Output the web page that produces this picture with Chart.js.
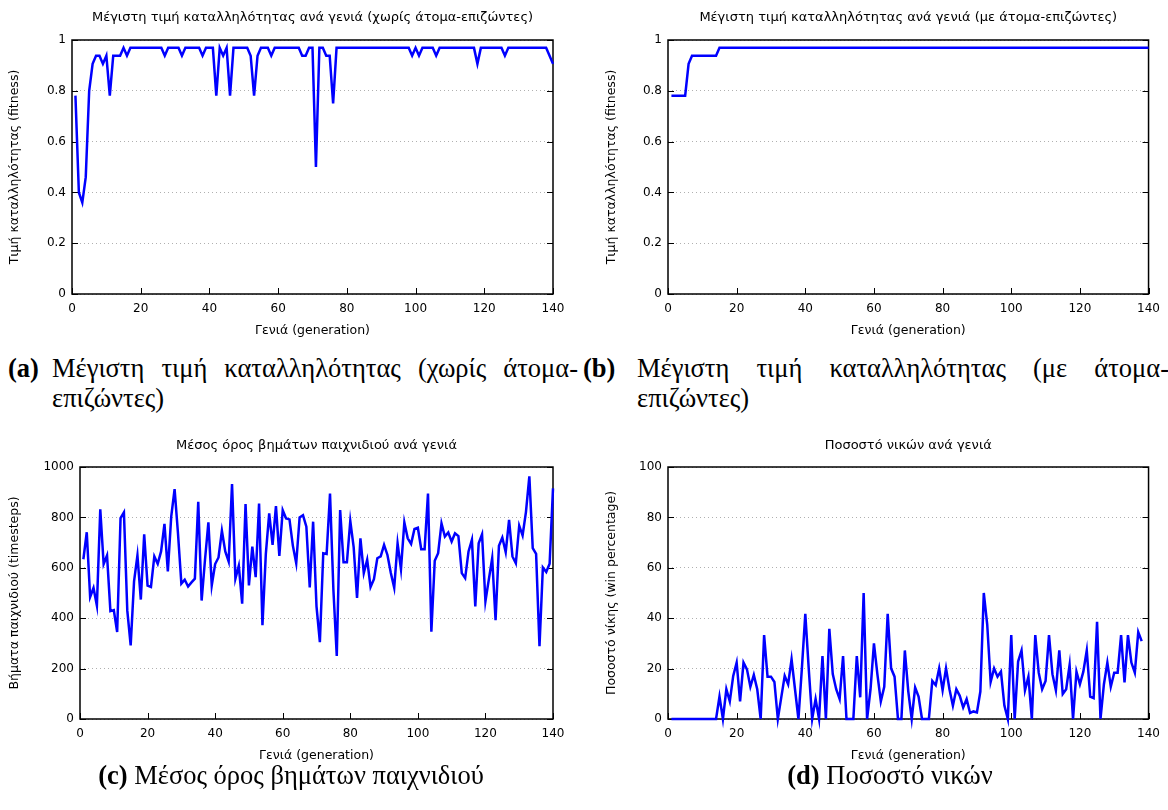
<!DOCTYPE html>
<html><head><meta charset="utf-8">
<script src="https://cdn.jsdelivr.net/npm/chart.js@4.4.1/dist/chart.umd.min.js"></script>
<style>
html,body{margin:0;padding:0;background:#fff;width:1168px;height:810px;overflow:hidden;position:relative}
canvas{position:absolute;display:block}
.cap{position:absolute;font-family:"Liberation Serif","Times New Roman",serif;font-size:26.5px;color:#000;white-space:nowrap;line-height:30px}
.j{text-align:justify;text-align-last:justify;white-space:normal}
</style></head><body>
<canvas id="ca" width="584" height="345" style="left:0;top:0"></canvas>
<canvas id="cb" width="584" height="345" style="left:584px;top:0"></canvas>
<canvas id="cc" width="584" height="340" style="left:0;top:425px"></canvas>
<canvas id="cd" width="584" height="340" style="left:584px;top:425px"></canvas>

<div class="cap" style="left:8px;top:353px"><b>(a)</b></div>
<div class="cap j" style="left:52px;top:353px;width:526px">Μέγιστη τιμή καταλληλότητας (χωρίς άτομα-</div>
<div class="cap" style="left:52px;top:383px">επιζώντες)</div>

<div class="cap" style="left:583px;top:353px"><b>(b)</b></div>
<div class="cap j" style="left:637px;top:353px;width:532px">Μέγιστη τιμή καταλληλότητας (με άτομα-</div>
<div class="cap" style="left:637px;top:383px">επιζώντες)</div>

<div class="cap" style="left:0;width:582px;top:760px;text-align:center"><b>(c)</b> Μέσος όρος βημάτων παιχνιδιού</div>
<div class="cap" style="left:600px;width:580px;top:760px;text-align:center"><b>(d)</b> Ποσοστό νικών</div>

<script>
const generations = [1,2,3,4,5,6,7,8,9,10,11,12,13,14,15,16,17,18,19,20,21,22,23,24,25,26,27,28,29,30,31,32,33,34,35,36,37,38,39,40,41,42,43,44,45,46,47,48,49,50,51,52,53,54,55,56,57,58,59,60,61,62,63,64,65,66,67,68,69,70,71,72,73,74,75,76,77,78,79,80,81,82,83,84,85,86,87,88,89,90,91,92,93,94,95,96,97,98,99,100,101,102,103,104,105,106,107,108,109,110,111,112,113,114,115,116,117,118,119,120,121,122,123,124,125,126,127,128,129,130,131,132,133,134,135,136,137,138,139,140];

const xTicks = [0,20,40,60,80,100,120,140];

const fitnessNoSurvivors = [0.781,0.40,0.36,0.46,0.80,0.906,0.938,0.938,0.906,0.938,0.781,0.938,0.938,0.938,0.969,0.938,0.969,
0.969,0.969,0.969,0.969,0.969,0.969,0.969,0.969,0.969,0.938,0.969,0.969,0.969,0.969,0.938,0.969,0.969,0.969,0.969,0.969,0.938,
0.969,0.969,0.969,0.781,0.969,0.938,0.969,0.781,0.969,0.969,0.969,0.969,0.969,0.938,0.781,0.938,0.969,0.969,0.969,0.938,
0.969,0.969,0.969,0.969,0.969,0.969,0.969,0.969,0.938,0.938,0.969,0.969,0.50,0.969,0.969,0.938,0.938,0.75,
0.969,0.969,0.969,0.969,0.969,0.969,0.969,0.969,0.969,0.969,0.969,0.969,0.969,0.969,0.969,0.969,0.969,0.969,0.969,0.969,0.969,0.969,
0.938,0.969,0.938,0.969,0.969,0.969,0.969,0.938,
0.969,0.969,0.969,0.969,0.969,0.969,0.969,0.969,0.969,0.969,0.969,0.906,
0.969,0.969,0.969,0.969,0.969,0.969,0.969,0.938,
0.969,0.969,0.969,0.969,0.969,0.969,0.969,0.969,0.969,0.969,0.969,0.969,0.938,0.906];

const fitnessWithSurvivors = [0.781,0.781,0.781,0.781,0.781,0.906,0.938,0.938,0.938,0.938,0.938,0.938,0.938,0.938,
0.969,0.969,0.969,0.969,0.969,0.969,0.969,0.969,0.969,0.969,0.969,0.969,0.969,0.969,0.969,0.969,0.969,0.969,0.969,0.969,
0.969,0.969,0.969,0.969,0.969,0.969,0.969,0.969,0.969,0.969,0.969,0.969,0.969,0.969,0.969,0.969,0.969,0.969,0.969,0.969,
0.969,0.969,0.969,0.969,0.969,0.969,0.969,0.969,0.969,0.969,0.969,0.969,0.969,0.969,0.969,0.969,0.969,0.969,0.969,0.969,
0.969,0.969,0.969,0.969,0.969,0.969,0.969,0.969,0.969,0.969,0.969,0.969,0.969,0.969,0.969,0.969,0.969,0.969,0.969,0.969,
0.969,0.969,0.969,0.969,0.969,0.969,0.969,0.969,0.969,0.969,0.969,0.969,0.969,0.969,0.969,0.969,0.969,0.969,0.969,0.969,
0.969,0.969,0.969,0.969,0.969,0.969,0.969,0.969,0.969,0.969,0.969,0.969,0.969,0.969,0.969,0.969,0.969,0.969,0.969,0.969,
0.969,0.969,0.969,0.969,0.969,0.969];

const gameSteps = [634,741,484,520,450,832,615,649,428,432,345,797,820,430,292,546,649,474,733,529,
524,645,616,665,774,586,803,912,737,537,553,526,542,557,862,470,632,780,530,615,
641,747,665,625,932,557,608,458,853,530,684,563,855,372,654,816,691,845,647,829,
796,792,688,618,800,809,763,522,783,447,305,658,655,895,513,250,829,622,622,786,
682,480,717,579,632,524,555,638,645,691,651,579,521,697,595,780,717,695,754,759,
674,674,895,346,628,658,776,724,740,704,737,726,579,559,665,711,447,697,733,467,
553,638,392,687,720,662,790,645,618,767,728,822,963,678,655,289,601,583,616,915];

const winPercentage = [0,0,0,0,0,0,0,0,0,0,0,0,0,0,8.9,0,11.8,7,17.1,22.4,
7,22.4,19.7,12.8,17.5,11.8,0,33.3,16.8,16.8,14.7,0,8.6,17.1,13.8,23.7,11.8,0,20,41.7,
20,0,7.9,0,25,0,35.8,17.8,11.8,7.9,25,0,0,0,25,8.6,50,0,11.8,30,
17.8,7,12.8,41.7,20.1,16.8,0,0,27.2,11,0,12.5,8.9,0,0,0,15.1,13.4,20.1,11.4,
20.1,11.8,5.3,11.8,9.2,4.6,7.9,2.4,3,2.6,10.9,50,37.5,14.7,20.1,16.8,18.8,5.3,0,33.3,
0,22.8,27.2,11.4,16.8,0,33.3,18.4,11.8,15.1,33.3,17.8,11.4,27.2,9.9,11.8,21.4,0,18.8,13.8,
18.8,27.2,8.9,8.3,38.6,0,13.8,22.4,12.8,18.4,18.4,33.3,14.5,33.3,22.4,18.4,34.5,30.9];

Chart.defaults.font.family = "'DejaVu Sans', sans-serif";
Chart.defaults.font.size = 12;
Chart.defaults.color = '#000';

const framePlugin = {
  id: 'frame',
  beforeDatasetsDraw(chart) {
    const {ctx, chartArea: a, scales} = chart;
    ctx.save();
    ctx.strokeStyle = '#000';
    ctx.lineWidth = 1;
    const L = 6;
    scales.y.ticks.forEach(t => {
      const p = Math.round(scales.y.getPixelForValue(t.value)) + 0.5;
      ctx.beginPath();
      ctx.moveTo(a.left, p); ctx.lineTo(a.left + L, p);
      ctx.moveTo(a.right, p); ctx.lineTo(a.right - L, p);
      ctx.stroke();
    });
    scales.x.ticks.forEach(t => {
      const p = Math.round(scales.x.getPixelForValue(t.value)) + 0.5;
      ctx.beginPath();
      ctx.moveTo(p, a.bottom); ctx.lineTo(p, a.bottom - L);
      ctx.stroke();
    });
    ctx.lineWidth = 1.5;
    ctx.strokeRect(a.left, a.top, a.right - a.left, a.bottom - a.top);
    ctx.restore();
  }
};

function makeChart(id, xs, ys, cfg) {
  const points = ys.map((v, i) => ({x: xs[i], y: v}));
  return new Chart(document.getElementById(id), {
    type: 'line',
    data: { datasets: [{ data: points, borderColor: '#0000ff', borderWidth: 2.5, pointRadius: 0, tension: 0, fill: false, clip: false }] },
    options: {
      responsive: false, animation: false,
      layout: { padding: { left: 0, right: cfg.padRight, top: 0, bottom: 0 } },
      plugins: {
        legend: { display: false }, tooltip: { enabled: false },
        title: { display: true, text: cfg.title, fullSize: false, color: '#000',
                 font: { size: 13, weight: 'normal' }, padding: { top: cfg.titleTop, bottom: cfg.titleBottom } }
      },
      scales: {
        x: {
          type: 'linear', min: 0, max: 140,
          afterBuildTicks: s => { s.ticks = xTicks.map(v => ({value: v})); },
          afterFit: s => { s.height = cfg.xHeight; },
          grid: { display: false, drawTicks: false },
          border: { display: false },
          ticks: { padding: 8, color: '#000', font: { size: 12 }, callback: v => String(v) },
          title: { display: true, text: 'Γενιά (generation)', color: '#000', font: { size: 12.5 }, padding: { top: 0, bottom: cfg.xTitlePad } }
        },
        y: {
          min: cfg.yMin, max: cfg.yMax,
          ticks: { stepSize: cfg.yStep, padding: 6, color: '#000', font: { size: 12 }, callback: v => String(Math.round(v * 10) / 10) },
          afterFit: s => { s.width = cfg.yWidth; },
          grid: { color: '#b0b0b0', lineWidth: 1, drawTicks: false },
          border: { display: false, dash: [1, 3] },
          title: { display: true, text: cfg.yTitle, color: '#000', font: { size: 12.5 }, padding: { top: cfg.yTitlePad, bottom: 0 } }
        }
      }
    },
    plugins: [framePlugin]
  });
}

makeChart('ca', generations, fitnessNoSurvivors, {
  title: 'Μέγιστη τιμή καταλληλότητας ανά γενιά (χωρίς άτομα-επιζώντες)',
  yTitle: 'Τιμή καταλληλότητας (fitness)', yMin: 0, yMax: 1, yStep: 0.2,
  padRight: 31, yWidth: 72, xHeight: 51, titleTop: 10.2, titleBottom: 14.2, xTitlePad: 7, yTitlePad: 7.5
});
makeChart('cb', generations, fitnessWithSurvivors, {
  title: 'Μέγιστη τιμή καταλληλότητας ανά γενιά (με άτομα-επιζώντες)',
  yTitle: 'Τιμή καταλληλότητας (fitness)', yMin: 0, yMax: 1, yStep: 0.2,
  padRight: 19, yWidth: 84, xHeight: 51, titleTop: 10.2, titleBottom: 14.2, xTitlePad: 7, yTitlePad: 20.5
});
makeChart('cc', generations, gameSteps, {
  title: 'Μέσος όρος βημάτων παιχνιδιού ανά γενιά',
  yTitle: 'Βήματα παιχνιδιού (timesteps)', yMin: 0, yMax: 1000, yStep: 200,
  padRight: 31, yWidth: 80, xHeight: 46, titleTop: 13.2, titleBottom: 13.2, xTitlePad: 1.5, yTitlePad: 7.5
});
makeChart('cd', generations.slice(0, winPercentage.length), winPercentage, {
  title: 'Ποσοστό νικών ανά γενιά',
  yTitle: 'Ποσοστό νίκης (win percentage)', yMin: 0, yMax: 100, yStep: 20,
  padRight: 19, yWidth: 84, xHeight: 46, titleTop: 13.2, titleBottom: 13.2, xTitlePad: 1.5, yTitlePad: 20.5
});
</script>
</body></html>
